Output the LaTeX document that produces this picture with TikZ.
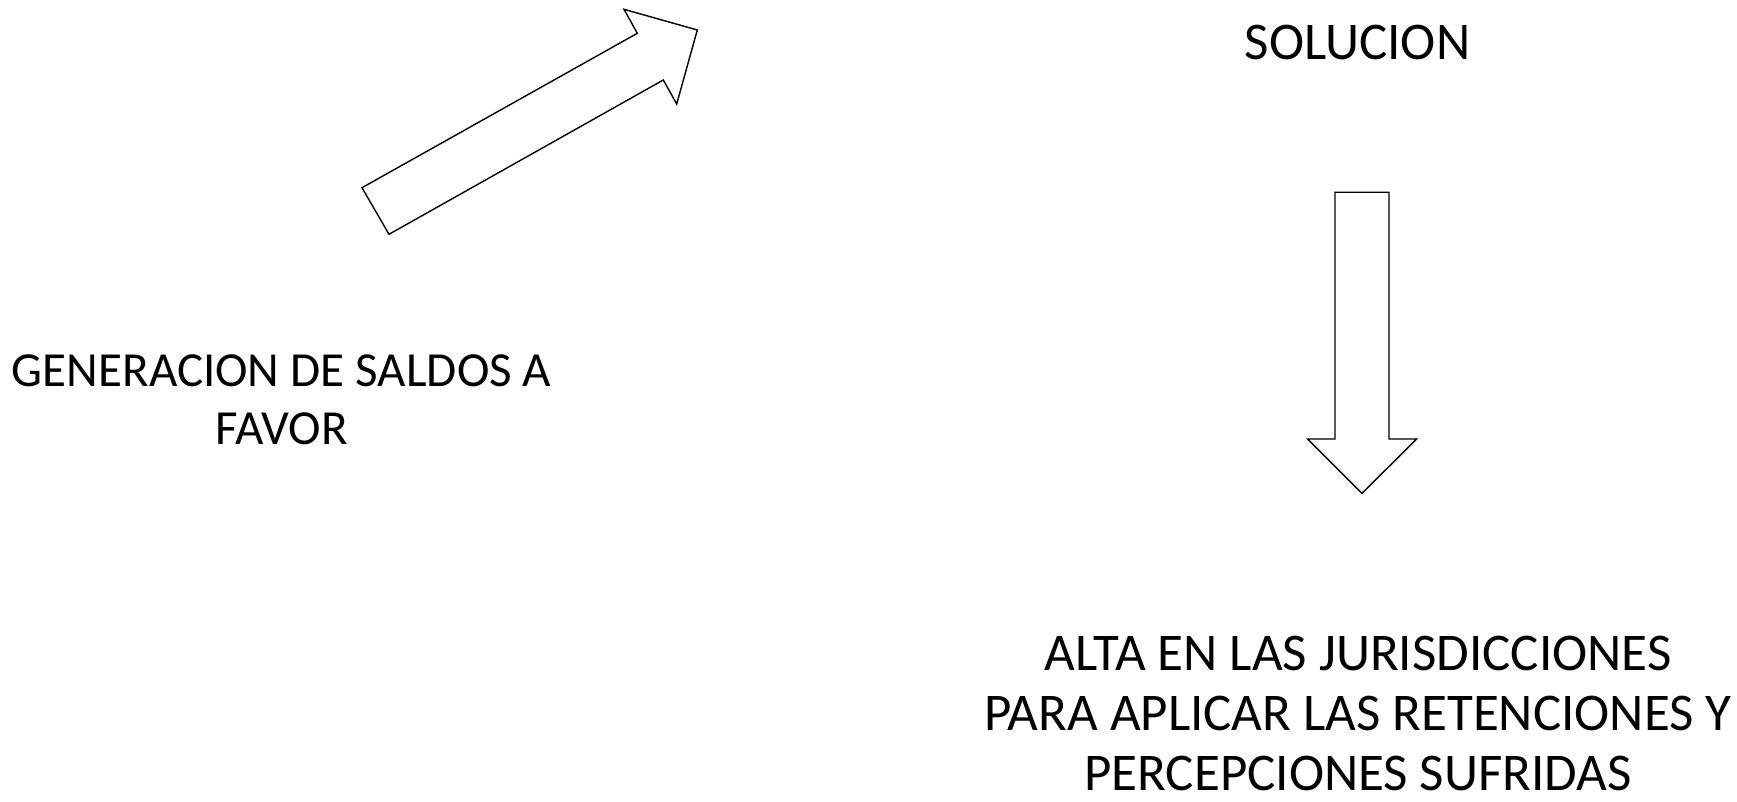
\documentclass[tikz,border=0pt]{standalone}
\usepackage{fontspec}
\setmainfont{Carlito}
\usepackage{tikz}
\usetikzlibrary{positioning}

\begin{document}
\begin{tikzpicture}[x=0.5pt,y=-0.5pt,
    lbl/.style={font=\fontsize{26.5}{30}\selectfont, align=center, anchor=base, inner sep=0pt},
    small lbl/.style={lbl, font=\fontsize{24.5}{28.75}\selectfont},
    blockarrow/.style={draw=black, fill=white, line width=0.7pt, line join=miter}]
    \useasboundingbox (0,0) rectangle (1737,802);

    % anchor=base sits on the last line
    \node[lbl] (solucion) at (1357.5,59.3) {SOLUCION};
    \node[small lbl] (saldos) at (281.7,444.5) {GENERACION DE SALDOS A\\FAVOR};
    \node[lbl] (alta) at (1358,790) {ALTA EN LAS JURISDICCIONES\\PARA APLICAR LAS RETENCIONES Y\\PERCEPCIONES SUFRIDAS};

    % block arrows
    \draw[blockarrow] (362,187.7) -- (389,234.3) -- (663.3,80) -- (676.7,104)
        -- (697.3,30) -- (624,9.3) -- (637.3,33.3) -- cycle;
    \draw[blockarrow] (1335,192.3) -- (1389,192.3) -- (1389,439) -- (1416.7,439)
        -- (1362,493.3) -- (1307.7,439) -- (1335,439) -- cycle;
\end{tikzpicture}
\end{document}
